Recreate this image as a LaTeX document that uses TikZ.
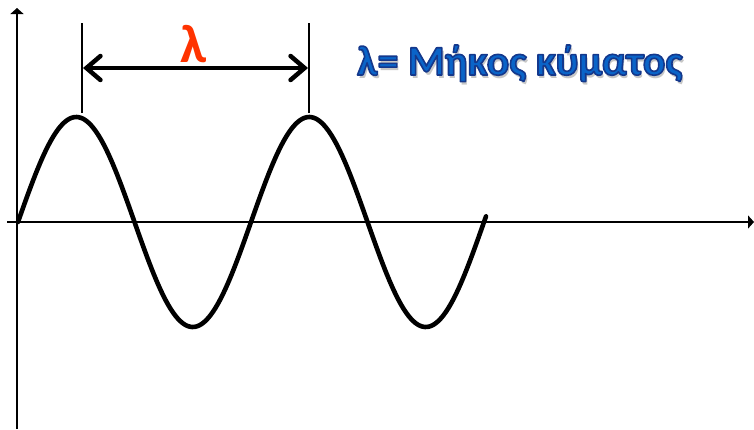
\documentclass[tikz,border=0pt]{standalone}
\usepackage{fontspec}
\setmainfont{Carlito}
\usetikzlibrary{arrows.meta}
\definecolor{lamred}{RGB}{255,51,0}
\definecolor{txtblue}{RGB}{10,100,200}
\tikzset{
  axis/.style={line width=1.8pt, -{Triangle[length=6pt,width=13pt]}},
  wave/.style={line width=4.6pt, line join=round, line cap=round},
  marker/.style={line width=1.3pt},
  span/.style={line width=4.5pt, {Straight Barb[length=14pt,width=24pt,line cap=round]}-{Straight Barb[length=14pt,width=24pt,line cap=round]}},
}
\newcommand{\bluetext}{\bfseries\fontsize{42}{48}\selectfont λ= Μήκος κύματος}
\newcommand{\outlineon}{\special{pdf:literal direct 0.08 0.22 0.55 RG 1.6 w 1 j 2 Tr}}
\newcommand{\outlineoff}{\special{pdf:literal direct 0 Tr}}
\begin{document}
\begin{tikzpicture}[x=1pt,y=-1pt]
\useasboundingbox (0,0) rectangle (754,429);
% axes
\coordinate (yb) at (17,429);
\coordinate (yt) at (17,8);
\coordinate (xl) at (7,222);
\coordinate (xr) at (754,222);
\draw[axis] (yb) -- (yt);
\draw[axis] (xl) -- (xr);
% wave
\draw[wave] plot[domain=18:486, samples=200, smooth] (\x,{222-105*sin(1.54506*(\x-18))});
% markers
\coordinate (m1b) at (82,113);
\coordinate (m1t) at (82,23);
\coordinate (m2b) at (309,113);
\coordinate (m2t) at (309,23);
\draw[marker] (m1b) -- (m1t);
\draw[marker] (m2b) -- (m2t);
\coordinate (a1) at (83,68);
\coordinate (a2) at (308,68);
\draw[span] (a1) -- (a2);
\node[text=lamred, font=\bfseries\fontsize{54}{60}\selectfont, anchor=base] (lam) at (194,62) {λ};
% label with shadow and outline
\node[text=black, opacity=0.22, anchor=base west, inner sep=0] (sh) at (359,78) {\bluetext};
\node[text=txtblue, anchor=base west, inner sep=0] (lbl) at (357,75) {\outlineon\bluetext\outlineoff};
\end{tikzpicture}
\end{document}
